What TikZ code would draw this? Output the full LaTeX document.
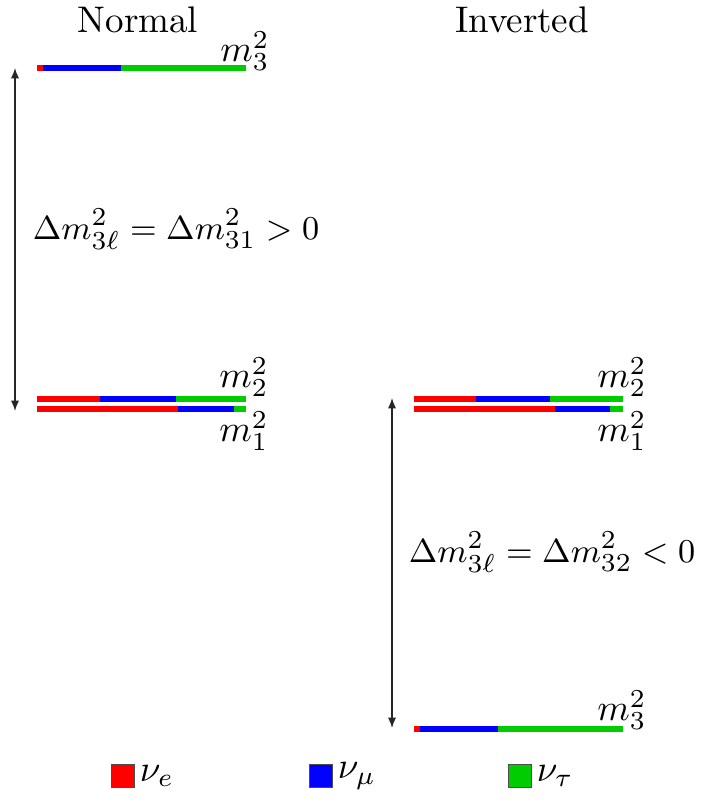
\documentclass[tikz,border=0pt]{standalone}
\usetikzlibrary{arrows.meta}
\definecolor{nue}{RGB}{255,0,0}
\definecolor{numu}{RGB}{0,0,255}
\definecolor{nutau}{RGB}{0,204,0}
\begin{document}
\begin{tikzpicture}[x=0.27pt,y=-0.27pt,
  level/.style={line width=1.4pt},
  mass/.style={inner sep=0pt},
  split/.style={font=\fontsize{9.35}{11}\selectfont},
  gap/.style={{Latex[length=2.8pt,width=2.2pt]}-{Latex[length=2.8pt,width=2.2pt]},black!85,line width=0.35pt},
  key/.style={draw=black!70,line width=0.3pt,minimum size=6.4pt,inner sep=0pt}]
  \useasboundingbox (0,0) rectangle (700,802);
  \node (normal) at (138,20) {Normal};
  \node (inverted) at (522,20) {Inverted};
  % normal ordering
  \foreach \c/\a/\b in {nue/37/43,numu/43/121,nutau/121/246} \draw[level,\c] (\a,68) -- (\b,68);
  \foreach \c/\a/\b in {nue/37/100,numu/100/176,nutau/176/246} \draw[level,\c] (\a,399) -- (\b,399);
  \foreach \c/\a/\b in {nue/37/178,numu/178/234,nutau/234/246} \draw[level,\c] (\a,409) -- (\b,409);
  \node[mass] (nm3) at (245,51) {$m_3^2$};
  \node[mass] (nm2) at (244,377) {$m_2^2$};
  \node[mass] (nm1) at (244,431) {$m_1^2$};
  \coordinate (ntop) at (15,68);
  \coordinate (nbot) at (15,411);
  \draw[gap] (ntop) -- (nbot);
  \node[split] (ngap) at (176,229) {$\Delta m^2_{3\ell}=\Delta m^2_{31}>0$};
  % inverted ordering
  \foreach \c/\a/\b in {nue/414/476,numu/476/550,nutau/550/623} \draw[level,\c] (\a,399) -- (\b,399);
  \foreach \c/\a/\b in {nue/414/555,numu/555/610,nutau/610/623} \draw[level,\c] (\a,409) -- (\b,409);
  \foreach \c/\a/\b in {nue/414/420,numu/420/498,nutau/498/623} \draw[level,\c] (\a,729) -- (\b,729);
  \node[mass] (im2) at (622,377) {$m_2^2$};
  \node[mass] (im1) at (622,431) {$m_1^2$};
  \node[mass] (im3) at (622,710) {$m_3^2$};
  \coordinate (itop) at (392,398);
  \coordinate (ibot) at (392,728);
  \draw[gap] (itop) -- (ibot);
  \node[split] (igap) at (552,552) {$\Delta m^2_{3\ell}=\Delta m^2_{32}<0$};
  % legend
  \foreach \c/\x/\t in {nue/123/e,numu/321/\mu,nutau/520/\tau}{
    \node[key,fill=\c] (k\c) at (\x,776) {};
    \node[anchor=west,inner sep=1pt] (l\c) at (k\c.east) {$\nu_\t$};
  }
\end{tikzpicture}
\end{document}
